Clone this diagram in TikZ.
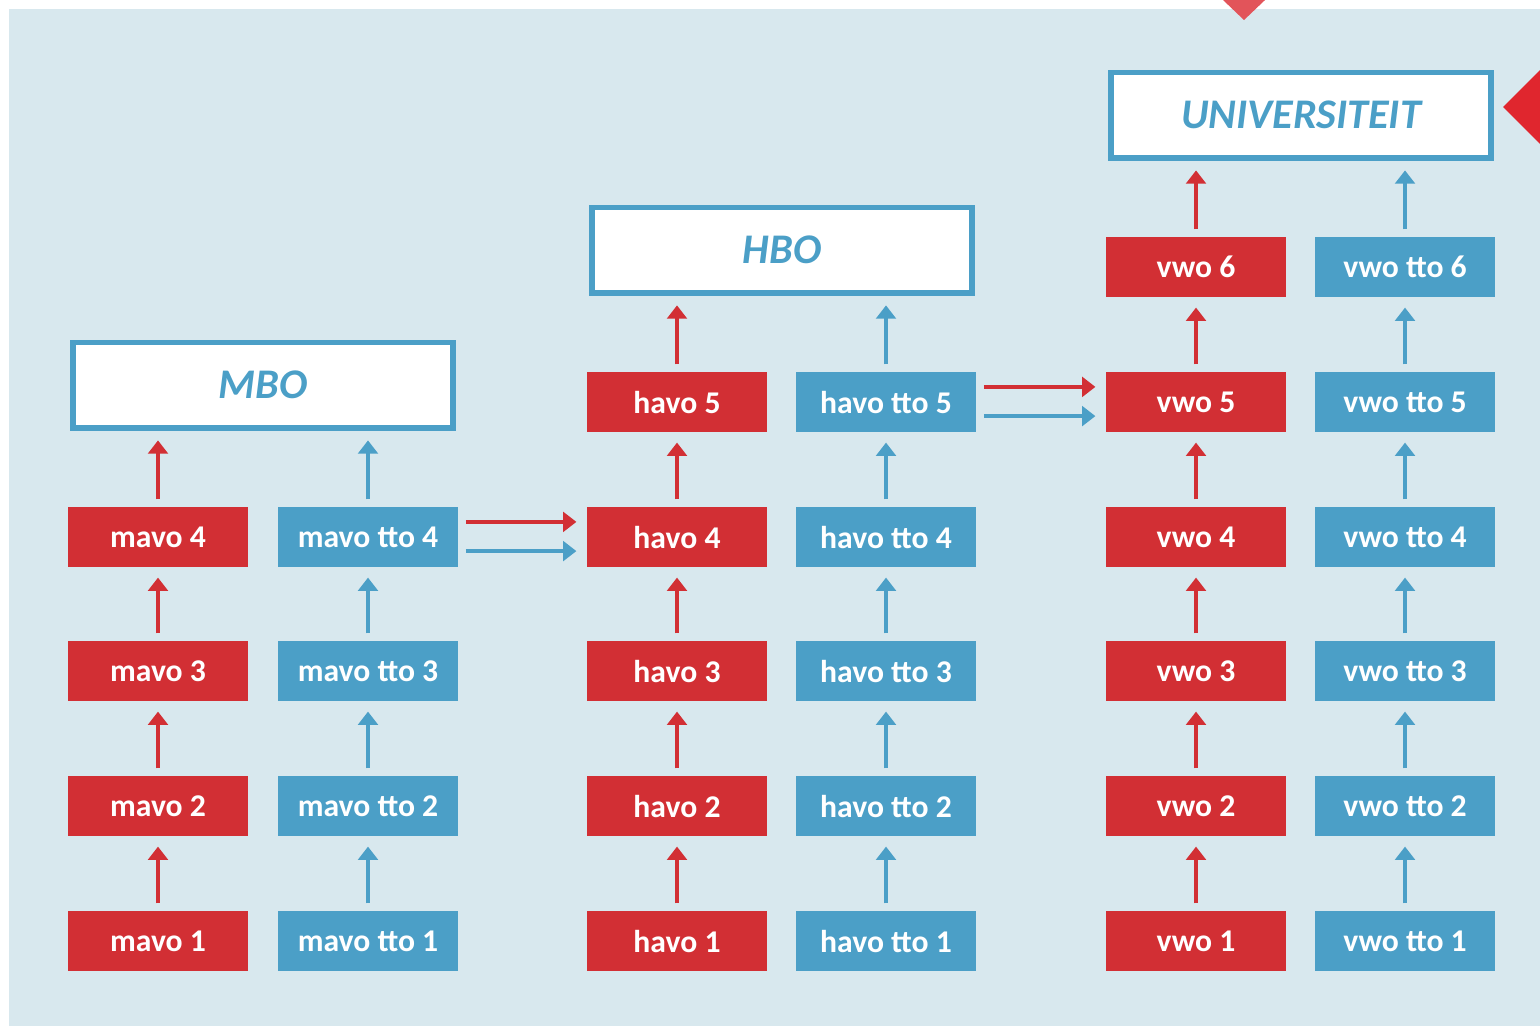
\documentclass[tikz,border=0pt]{standalone}
\usepackage{fontspec}
\setmainfont{Carlito}
\usetikzlibrary{arrows.meta}
\definecolor{bgblue}{HTML}{D8E8EE}
\definecolor{boxred}{HTML}{D22F34}
\definecolor{boxblue}{HTML}{4B9FC7}
\definecolor{markred}{HTML}{E0262E}
\definecolor{markpink}{HTML}{E2545A}

\begin{document}
\begin{tikzpicture}[x=0.01cm,y=-0.01cm,
        level/.style={minimum width=1.8cm,minimum height=0.6cm,inner sep=0pt,text=white,
            font=\fontsize{9}{10}\selectfont\bfseries},
        regular/.style={level,fill=boxred},
        tto/.style={level,fill=boxblue},
        school/.style={draw=boxblue,line width=1.7pt,fill=white,minimum width=3.8cm,
            minimum height=0.85cm,inner sep=0pt,text=boxblue,
            font=\fontsize{12}{13}\selectfont\bfseries\itshape},
        up/.style={-{Triangle[width=5.6pt,length=3.8pt]},line width=1pt,
            shorten <=2pt,shorten >=2.8pt},
    ]
        \useasboundingbox (0,0) rectangle (1540,1026);
        \fill[bgblue] (9,9) rectangle (1540,1026);
        \fill[markpink] (1223,0) -- (1265,0) -- (1244,20) -- cycle;
        \fill[markred] (1503,107) -- (1540,70) -- (1540,144) -- cycle;

        \node[school] at (263,385) (mbo) {MBO};
        \node[school] at (782,250) (hbo) {HBO};
        \node[school] at (1301,115) (uni) {UNIVERSITEIT};

        \node[regular] at (158,941) (m1) {mavo 1};
        \node[regular] at (158,806) (m2) {mavo 2};
        \node[regular] at (158,671) (m3) {mavo 3};
        \node[regular] at (158,537) (m4) {mavo 4};
        \node[tto] at (368,941) (mt1) {mavo tto 1};
        \node[tto] at (368,806) (mt2) {mavo tto 2};
        \node[tto] at (368,671) (mt3) {mavo tto 3};
        \node[tto] at (368,537) (mt4) {mavo tto 4};

        \node[regular] at (677,941) (h1) {havo 1};
        \node[regular] at (677,806) (h2) {havo 2};
        \node[regular] at (677,671) (h3) {havo 3};
        \node[regular] at (677,537) (h4) {havo 4};
        \node[regular] at (677,402) (h5) {havo 5};
        \node[tto] at (886,941) (ht1) {havo tto 1};
        \node[tto] at (886,806) (ht2) {havo tto 2};
        \node[tto] at (886,671) (ht3) {havo tto 3};
        \node[tto] at (886,537) (ht4) {havo tto 4};
        \node[tto] at (886,402) (ht5) {havo tto 5};

        \node[regular] at (1196,941) (v1) {vwo 1};
        \node[regular] at (1196,806) (v2) {vwo 2};
        \node[regular] at (1196,671) (v3) {vwo 3};
        \node[regular] at (1196,537) (v4) {vwo 4};
        \node[regular] at (1196,402) (v5) {vwo 5};
        \node[regular] at (1196,267) (v6) {vwo 6};
        \node[tto] at (1405,941) (vt1) {vwo tto 1};
        \node[tto] at (1405,806) (vt2) {vwo tto 2};
        \node[tto] at (1405,671) (vt3) {vwo tto 3};
        \node[tto] at (1405,537) (vt4) {vwo tto 4};
        \node[tto] at (1405,402) (vt5) {vwo tto 5};
        \node[tto] at (1405,267) (vt6) {vwo tto 6};

        \path[color=boxred,every edge/.append style={up}]
        (m1) edge (m2)
        (m2) edge (m3)
        (m3) edge (m4)
        (m4) edge (m4 |- mbo.south)

        (h1) edge (h2)
        (h2) edge (h3)
        (h3) edge (h4)
        (h4) edge (h5)
        (h5) edge (h5 |- hbo.south)

        (v1) edge (v2)
        (v2) edge (v3)
        (v3) edge (v4)
        (v4) edge (v5)
        (v5) edge (v6)
        (v6) edge (v6 |- uni.south)

        ([yshift=4.3pt]mt4.east) edge ([yshift=4.3pt]h4.west)
        ([yshift=4.3pt]ht5.east) edge ([yshift=4.3pt]v5.west)
        ;

        \path[color=boxblue,every edge/.append style={up}]
        (mt1) edge (mt2)
        (mt2) edge (mt3)
        (mt3) edge (mt4)
        (mt4) edge (mt4 |- mbo.south)

        (ht1) edge (ht2)
        (ht2) edge (ht3)
        (ht3) edge (ht4)
        (ht4) edge (ht5)
        (ht5) edge (ht5 |- hbo.south)

        (vt1) edge (vt2)
        (vt2) edge (vt3)
        (vt3) edge (vt4)
        (vt4) edge (vt5)
        (vt5) edge (vt6)
        (vt6) edge (vt6 |- uni.south)

        ([yshift=-4pt]mt4.east) edge ([yshift=-4pt]h4.west)
        ([yshift=-4pt]ht5.east) edge ([yshift=-4pt]v5.west)
        ;
\end{tikzpicture}
\end{document}
